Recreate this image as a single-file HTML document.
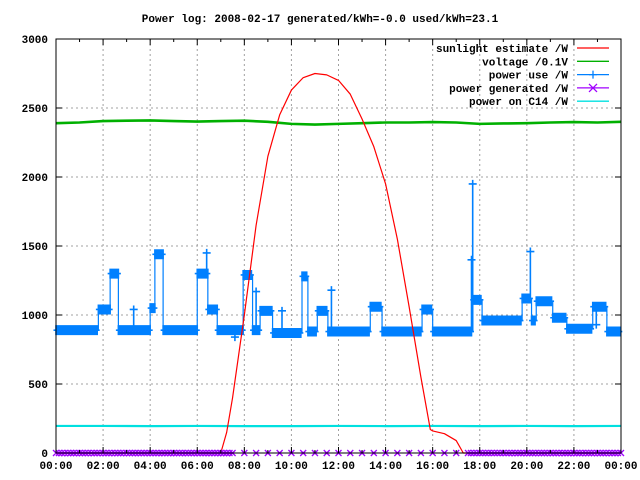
<!DOCTYPE html>
<html><head><meta charset="utf-8">
<style>
body{margin:0;background:#fff;}
svg{display:block;font-family:"Liberation Mono","DejaVu Sans Mono",monospace;font-size:11px;font-weight:bold;}
</style></head>
<body>
<svg id="chart" width="640" height="480" xmlns="http://www.w3.org/2000/svg">
<rect width="640" height="480" fill="#fff"/>
<text x="320" y="22" text-anchor="middle">Power log: 2008-02-17 generated/kWh=-0.0 used/kWh=23.1</text>
<g id="grid"></g>
<g id="series"></g>
<g id="axes"></g>
<g id="legend"></g>
</svg>
<script>
const xTicks = ["00:00","02:00","04:00","06:00","08:00","10:00","12:00","14:00","16:00","18:00","20:00","22:00","00:00"];
const yTicks = [0,500,1000,1500,2000,2500,3000];
const sunT = [0,7.0,7.25,7.5,7.75,8.0,8.5,9.0,9.5,10.0,10.5,11.0,11.5,12.0,12.5,13.0,13.5,14.0,14.5,15.0,15.5,15.9,16.0,16.5,17.0,17.3,24];
const sunV = [0,0,150,400,700,1000,1650,2150,2450,2630,2720,2750,2740,2700,2600,2420,2220,1950,1550,1060,550,170,160,140,90,0,0];
const voltT = [0,1,2,3,4,5,6,7,8,9,10,11,12,13,14,15,16,17,18,19,20,21,22,23,24];
const voltV = [2390,2395,2405,2408,2410,2405,2402,2405,2408,2400,2385,2380,2385,2390,2395,2395,2398,2395,2385,2388,2390,2395,2398,2395,2400];
const c14T = [0,2,4,6,8,10,12,14,16,18,20,22,24];
const c14V = [196,196,195,196,195,195,196,195,196,195,196,195,196];
const useStart = [0,1.8,2.3,2.65,4.0,4.2,4.55,6.0,6.45,6.85,7.95,8.35,8.67,9.2,10.45,10.7,11.1,11.55,13.35,13.85,15.55,16.0,17.7,18.1,19.8,20.2,20.4,21.1,21.7,22.8,23.4];
const useEnd   = [1.8,2.3,2.65,4.0,4.2,4.55,6.0,6.45,6.85,7.95,8.35,8.67,9.2,10.45,10.7,11.1,11.55,13.35,13.85,15.55,16.0,17.7,18.1,19.8,20.2,20.4,21.1,21.7,22.8,23.4,24];
const useVal   = [890,1040,1300,890,1050,1440,890,1300,1040,890,1290,890,1030,870,1280,880,1030,880,1060,880,1040,880,1110,960,1120,960,1100,980,900,1060,880];
const spikeT = [6.4,17.65,17.7,20.15,3.3,7.6,8.5,9.6,11.7,22.95];
const spikeV = [1450,1400,1950,1460,1040,840,1170,1030,1180,930];
const genT = [0,0.5,1,1.5,2,2.5,3,3.5,4,4.5,5,5.5,6,6.5,7,7.5,8,8.5,9,9.5,10,10.5,11,11.5,12,12.5,13,13.5,14,14.5,15,15.5,16,16.5,17,17.5,18,18.5,19,19.5,20,20.5,21,21.5,22,22.5,23,23.5,24];
const genV = [0,0,0,0,0,0,0,0,0,0,0,0,0,0,0,0,0,0,0,0,0,0,0,0,0,0,0,0,0,0,0,0,0,0,0,0,0,0,0,0,0,0,0,0,0,0,0,0,0];

const L=56,R=621,T=39,B=453;
const NS="http://www.w3.org/2000/svg";
function xs(h){return L+(h/24)*(R-L);}
function ys(v){return B-(v/3000)*(B-T);}
function mk(tag,attrs,parent){const e=document.createElementNS(NS,tag);for(const k in attrs)e.setAttribute(k,attrs[k]);parent.appendChild(e);return e;}
const grid=document.getElementById('grid'),ser=document.getElementById('series'),axes=document.getElementById('axes'),leg=document.getElementById('legend');

yTicks.forEach(v=>{
  if(v>0&&v<3000){const g=mk('line',{x1:L,x2:R,y1:ys(v),y2:ys(v),stroke:'#a0a0a0','stroke-dasharray':'2,3'},grid);
  
  }
  const t=mk('text',{x:L-8,y:ys(v)+4,'text-anchor':'end'},axes);t.textContent=v;
  
  
  mk('line',{x1:L,x2:L+6,y1:ys(v),y2:ys(v),stroke:'#000'},axes);
  mk('line',{x1:R,x2:R-6,y1:ys(v),y2:ys(v),stroke:'#000'},axes);
});
xTicks.forEach((s,i)=>{
  const h=i*2;
  if(i>0&&i<xTicks.length-1){const g=mk('line',{x1:xs(h),x2:xs(h),y1:T,y2:B,stroke:'#a0a0a0','stroke-dasharray':'2,3'},grid);
  
  }
  const t=mk('text',{x:xs(h),y:B+16,'text-anchor':'middle'},axes);t.textContent=s;
  
  
});
for(let h=0;h<=24;h++){mk('line',{x1:xs(h),x2:xs(h),y1:B,y2:B-(h%2?3:6),stroke:'#000'},axes);mk('line',{x1:xs(h),x2:xs(h),y1:T,y2:T+(h%2?3:6),stroke:'#000'},axes);}
const frame=mk('rect',{x:L,y:T,width:R-L,height:B-T,fill:'none',stroke:'#000'},axes);



function poly(T_,V_,color,w,name){const p=mk('polyline',{points:T_.map((t,i)=>xs(t)+','+ys(V_[i])).join(' '),fill:'none',stroke:color,'stroke-width':w,'stroke-linejoin':'round'},ser);
  
  return p;}
poly(c14T,c14V,'#00e0e0',2.2,'c14-line');
poly(voltT,voltV,'#00b000',2.6,'voltage-line');

let pts=[];
useStart.forEach((s,i)=>{pts.push(xs(s)+','+ys(useVal[i]));pts.push(xs(useEnd[i])+','+ys(useVal[i]));});
const up=mk('polyline',{points:pts.join(' '),fill:'none',stroke:'#0080ff','stroke-width':1.2},ser);


const um=mk('path',{d:'',stroke:'#0080ff','stroke-width':1.6,fill:'none'},ser);


let d='';
useStart.forEach((s,i)=>{for(let t=s;t<=useEnd[i];t+=0.05){const x=xs(t),y=ys(useVal[i]);d+=`M${x-2.5},${y}h5M${x},${y-5}v10`;}});
spikeT.forEach((t,i)=>{const x=xs(t),y=ys(spikeV[i]);d+=`M${x-4},${y}h8M${x},${y-4}v8`;
  const base=ys(useVal[useStart.findIndex((s,j)=>t>=s&&t<=useEnd[j])]);d+=`M${x},${base}V${y}`;});
um.setAttribute('d',d);

poly(sunT,sunV,'#ff0000',1.2,'sunlight-line');

const gl=mk('line',{x1:L,x2:R,y1:ys(0),y2:ys(0),stroke:'#000','stroke-width':1},ser);


const gm=mk('path',{d:'',stroke:'#a000ff','stroke-width':1.3,fill:'none'},ser);


let gd='';
genT.forEach((t,i)=>{const n=(t>7.2&&t<17.3)?1:4;for(let k=0;k<n;k++){const x=xs(t)+k*2.9,y=ys(genV[i]);if(x>R)continue;gd+=`M${x-3},${y-3}l6,6M${x-3},${y+3}l6,-6`;}});
gm.setAttribute('d',gd);

const legend=[["sunlight estimate /W","#ff0000",null],["voltage /0.1V","#00b000",null],["power use /W","#0080ff","+"],["power generated /W","#a000ff","x"],["power on C14 /W","#00e0e0",null]];
legend.forEach((e,i)=>{const y=48+i*13.3;
  const t=mk('text',{x:568,y:y+4,'text-anchor':'end'},leg);t.textContent=e[0];
  
  
  mk('line',{x1:577,x2:609,y1:y,y2:y,stroke:e[1],'stroke-width':1.3},leg);
  if(e[2]=='+'){mk('path',{d:`M589,${y}h8M593,${y-4}v8`,stroke:e[1],'stroke-width':1.3},leg);}
  if(e[2]=='x'){mk('path',{d:`M589,${y-4}l8,8M589,${y+4}l8,-8`,stroke:e[1],'stroke-width':1.3},leg);}
});
</script>
</body></html>
